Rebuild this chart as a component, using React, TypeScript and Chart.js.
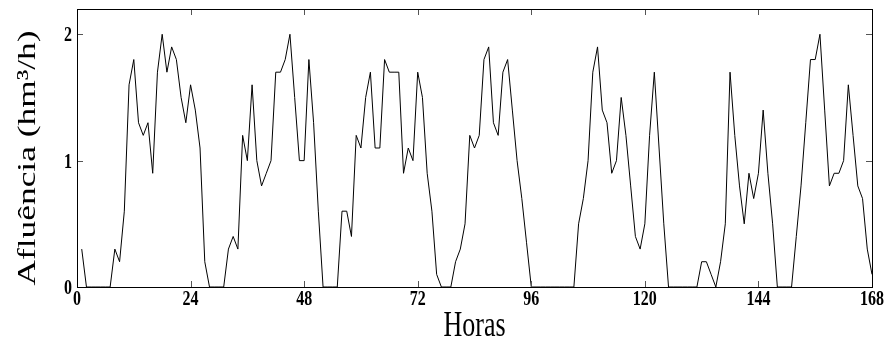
import React, { useEffect, useRef } from 'react';
import { Chart, registerables } from 'chart.js';

Chart.register(...registerables);

// Hourly inflow (hm³/h), hours 1..168, one array per day
const DAY1 = [0.3, 0, 0, 0, 0, 0, 0, 0.3, 0.2, 0.6, 1.6, 1.8, 1.3, 1.2, 1.3, 0.9, 1.7, 2.0, 1.7, 1.9, 1.8, 1.5, 1.3, 1.6];
const DAY2 = [1.4, 1.1, 0.2, 0, 0, 0, 0, 0.3, 0.4, 0.3, 1.2, 1.0, 1.6, 1.0, 0.8, 0.9, 1.0, 1.7, 1.7, 1.8, 2.0, 1.5, 1.0, 1.0];
const DAY3 = [1.8, 1.3, 0.6, 0, 0, 0, 0, 0.6, 0.6, 0.4, 1.2, 1.1, 1.5, 1.7, 1.1, 1.1, 1.8, 1.7, 1.7, 1.7, 0.9, 1.1, 1.0, 1.7];
const DAY4 = [1.5, 0.9, 0.6, 0.1, 0, 0, 0, 0.2, 0.3, 0.5, 1.2, 1.1, 1.2, 1.8, 1.9, 1.3, 1.2, 1.7, 1.8, 1.4, 1.0, 0.7, 0.35, 0];
const DAY5 = [0, 0, 0, 0, 0, 0, 0, 0, 0, 0.5, 0.7, 1.0, 1.7, 1.9, 1.4, 1.3, 0.9, 1.0, 1.5, 1.2, 0.8, 0.4, 0.3, 0.5];
const DAY6 = [1.2, 1.7, 1.1, 0.5, 0, 0, 0, 0, 0, 0, 0, 0.2, 0.2, 0.1, 0, 0.2, 0.5, 1.7, 1.2, 0.8, 0.5, 0.9, 0.7, 0.9];
const DAY7 = [1.4, 0.9, 0.5, 0, 0, 0, 0, 0.4, 0.8, 1.3, 1.8, 1.8, 2.0, 1.4, 0.8, 0.9, 0.9, 1.0, 1.6, 1.2, 0.8, 0.7, 0.3, 0.1];

const X_TICKS = [0, 24, 48, 72, 96, 120, 144, 168];
const Y_TICKS = [0, 1, 2];
const X_MIN = 0;
const X_MAX = 168;
const Y_MIN = 0;
const Y_MAX = 2.2;
const X_TITLE = 'Horas';
const Y_TITLE = 'Afluência (hm³/h)';

const SERIES = [...DAY1, ...DAY2, ...DAY3, ...DAY4, ...DAY5, ...DAY6, ...DAY7];
const POINTS = SERIES.map((v, i) => ({ x: i + 1, y: v }));

const STRETCH = 1.36;

function stretchedText(
  ctx: CanvasRenderingContext2D,
  text: string,
  x: number,
  y: number,
  font: string,
  rot: number,
  sx: number,
  sy: number,
  align: CanvasTextAlign,
  baseline: CanvasTextBaseline
) {
  ctx.save();
  ctx.translate(x, y);
  if (rot) ctx.rotate(rot);
  ctx.scale(sx, sy);
  ctx.font = font;
  ctx.fillStyle = '#000';
  ctx.textAlign = align;
  ctx.textBaseline = baseline;
  ctx.fillText(text, 0, 0);
  ctx.restore();
}

const framePlugin = {
  id: 'frame',
  afterDraw(chart: any) {
    const { ctx, chartArea } = chart;
    const { left, right, top, bottom } = chartArea;
    const xs = chart.scales.x;
    const ys = chart.scales.y;
    ctx.save();
    // inward tick marks on all four sides
    ctx.strokeStyle = '#555';
    ctx.lineWidth = 1;
    const tl = 6;
    ctx.beginPath();
    xs.ticks.forEach((t: any) => {
      const px = Math.round(xs.getPixelForValue(t.value)) + 0.5;
      ctx.moveTo(px, bottom);
      ctx.lineTo(px, bottom - tl);
      ctx.moveTo(px, top);
      ctx.lineTo(px, top + tl);
    });
    ys.ticks.forEach((t: any) => {
      const py = Math.round(ys.getPixelForValue(t.value)) + 0.5;
      ctx.moveTo(left, py);
      ctx.lineTo(left + tl, py);
      ctx.moveTo(right, py);
      ctx.lineTo(right - tl, py);
    });
    ctx.stroke();
    // frame
    ctx.strokeStyle = '#000';
    ctx.strokeRect(left + 0.5, top + 0.5, right - left, bottom - top);
    ctx.restore();

    const tickFont = 'bold 16px "Liberation Serif", "Times New Roman", serif';
    xs.ticks.forEach((t: any) => {
      const px = xs.getPixelForValue(t.value);
      stretchedText(ctx, String(t.value), px, 305, tickFont, 0, 1, 1.3, 'center', 'alphabetic');
    });
    ys.ticks.forEach((t: any) => {
      const py = ys.getPixelForValue(t.value);
      stretchedText(ctx, String(t.value), 72, py + 7, tickFont, 0, 1, 1.3, 'right', 'alphabetic');
    });
    const titleFont = '26px "Liberation Serif", "Times New Roman", serif';
    stretchedText(ctx, X_TITLE, (left + right) / 2, 336, titleFont, 0, 1, STRETCH, 'center', 'alphabetic');
    stretchedText(ctx, Y_TITLE, 35, 158, titleFont, -Math.PI / 2, STRETCH, 1, 'center', 'alphabetic');
  },
};

export default function App() {
  const canvasRef = useRef<HTMLCanvasElement | null>(null);

  useEffect(() => {
    const canvas = canvasRef.current;
    if (!canvas) return;
    const chart = new Chart(canvas, {
      type: 'line',
      data: {
        datasets: [
          {
            data: POINTS,
            borderColor: '#000',
            borderWidth: 1,
            pointRadius: 0,
            tension: 0,
            fill: false,
          },
        ],
      },
      options: {
        responsive: false,
        animation: false,
        devicePixelRatio: 1,
        layout: { padding: { top: 9, right: 16, left: 0, bottom: 0 } },
        plugins: { legend: { display: false }, tooltip: { enabled: false } },
        scales: {
          x: {
            type: 'linear',
            min: X_MIN,
            max: X_MAX,
            grid: { display: false },
            border: { display: false },
            ticks: { display: false },
            afterBuildTicks: (scale: any) => {
              scale.ticks = X_TICKS.map((v) => ({ value: v }));
            },
            afterFit: (scale: any) => {
              scale.height = 62;
            },
          },
          y: {
            type: 'linear',
            min: Y_MIN,
            max: Y_MAX,
            grid: { display: false },
            border: { display: false },
            ticks: { display: false },
            afterBuildTicks: (scale: any) => {
              scale.ticks = Y_TICKS.map((v) => ({ value: v }));
            },
            afterFit: (scale: any) => {
              scale.width = 77;
            },
          },
        },
      },
      plugins: [framePlugin],
    });
    return () => chart.destroy();
  }, []);

  return (
    <div style={{ position: 'absolute', left: 0, top: 0, width: 888, height: 349, background: '#fff' }}>
      <canvas ref={canvasRef} width={888} height={349} style={{ display: 'block', width: 888, height: 349 }} />
    </div>
  );
}
